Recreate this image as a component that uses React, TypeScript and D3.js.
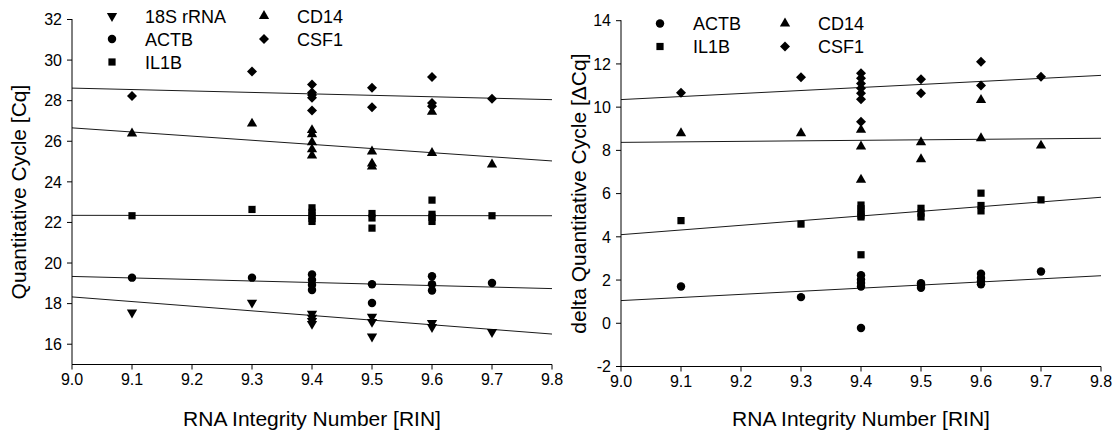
import * as d3 from "d3";

// RIN vs Cq (left panel), [rin, cq]
const cq18S = [[9.1, 17.56], [9.3, 18.05], [9.4, 17.5], [9.4, 17.3], [9.4, 17.15], [9.4, 17.0], [9.5, 17.35], [9.5, 17.1], [9.5, 16.38], [9.6, 17.05], [9.6, 16.85], [9.7, 16.6]];
const cqACTB = [[9.1, 19.28], [9.3, 19.28], [9.4, 19.44], [9.4, 19.16], [9.4, 18.92], [9.4, 18.67], [9.5, 18.95], [9.5, 18.03], [9.6, 19.35], [9.6, 18.95], [9.6, 18.65], [9.7, 19.02]];
const cqIL1B = [[9.1, 22.33], [9.3, 22.64], [9.4, 22.72], [9.4, 22.5], [9.4, 22.35], [9.4, 22.2], [9.4, 22.05], [9.5, 22.44], [9.5, 22.22], [9.5, 21.72], [9.6, 23.1], [9.6, 22.4], [9.6, 22.25], [9.6, 22.05], [9.7, 22.33]];
const cqCD14 = [[9.1, 26.38], [9.3, 26.87], [9.4, 26.55], [9.4, 26.35], [9.4, 25.95], [9.4, 25.6], [9.4, 25.3], [9.5, 25.5], [9.5, 24.9], [9.5, 24.75], [9.6, 27.45], [9.6, 25.42], [9.7, 24.86]];
const cqCSF1 = [[9.1, 28.23], [9.3, 29.44], [9.4, 28.8], [9.4, 28.4], [9.4, 28.28], [9.4, 28.15], [9.4, 27.52], [9.5, 28.64], [9.5, 27.68], [9.6, 29.17], [9.6, 27.88], [9.6, 27.72], [9.7, 28.09]];

// RIN vs delta Cq (right panel)
const dcqACTB = [[9.1, 1.7], [9.3, 1.21], [9.4, 2.22], [9.4, 2.02], [9.4, 1.86], [9.4, 1.7], [9.4, -0.22], [9.5, 1.85], [9.5, 1.75], [9.5, 1.64], [9.6, 2.29], [9.6, 2.1], [9.6, 1.95], [9.6, 1.8], [9.7, 2.4]];
const dcqIL1B = [[9.1, 4.75], [9.3, 4.59], [9.4, 5.47], [9.4, 5.3], [9.4, 5.15], [9.4, 5.0], [9.4, 4.92], [9.4, 3.17], [9.5, 5.32], [9.5, 5.1], [9.5, 4.92], [9.6, 6.02], [9.6, 5.45], [9.6, 5.2], [9.7, 5.71]];
const dcqCD14 = [[9.1, 8.79], [9.3, 8.79], [9.4, 8.95], [9.4, 8.18], [9.4, 6.64], [9.5, 8.38], [9.5, 7.59], [9.6, 10.33], [9.6, 8.56], [9.7, 8.22]];
const dcqCSF1 = [[9.1, 10.67], [9.3, 11.38], [9.4, 11.57], [9.4, 11.34], [9.4, 11.1], [9.4, 10.87], [9.4, 10.64], [9.4, 10.37], [9.4, 9.33], [9.5, 11.29], [9.5, 10.64], [9.6, 12.1], [9.6, 11.0], [9.7, 11.41]];

// regression lines: value at RIN 9.0 and 9.8
const fitRin = [9.0, 9.8];
const cqFit18S = [18.33, 16.5];
const cqFitACTB = [19.34, 18.74];
const cqFitIL1B = [22.35, 22.33];
const cqFitCD14 = [26.66, 25.03];
const cqFitCSF1 = [28.62, 28.05];
const dcqFitACTB = [1.05, 2.2];
const dcqFitIL1B = [4.1, 5.83];
const dcqFitCD14 = [8.37, 8.56];
const dcqFitCSF1 = [10.35, 11.47];

const xTicks = [9.0, 9.1, 9.2, 9.3, 9.4, 9.5, 9.6, 9.7, 9.8];
const cqTicks = [16, 18, 20, 22, 24, 26, 28, 30, 32];
const dcqTicks = [-2, 0, 2, 4, 6, 8, 10, 12, 14];

const FONT = "'Liberation Sans', Arial, Helvetica, sans-serif";

const shapes = {
  "18S rRNA": { type: d3.symbolTriangle, size: 46, rotate: 180 },
  ACTB: { type: d3.symbolCircle, size: 56, rotate: 0 },
  IL1B: { type: d3.symbolSquare, size: 52, rotate: 0 },
  CD14: { type: d3.symbolTriangle, size: 46, rotate: 0 },
  CSF1: { type: d3.symbolSquare, size: 50, rotate: 45 },
};

function Marker({ name, x, y }) {
  const s = shapes[name];
  const d = d3.symbol().type(s.type).size(s.size)();
  return <path d={d} transform={`translate(${x},${y}) rotate(${s.rotate})`} fill="#000" />;
}

function Panel({ left, right, top, bottom, yDomain, yTicks, series, yTitle, titleX, legend }) {
  const x = d3.scaleLinear().domain([9.0, 9.8]).range([left, right]);
  const y = d3.scaleLinear().domain(yDomain).range([bottom, top]);
  const line = d3.line().x((d) => x(d[0])).y((d) => y(d[1]));

  return (
    <g fontFamily={FONT}>
      {/* fit lines */}
      {series.map((s) => (
        <path key={"f" + s.name} d={line(fitRin.map((r, i) => [r, s.fit[i]]))} stroke="#1a1a1a" strokeWidth={1} fill="none" />
      ))}
      {/* points */}
      {series.map((s) =>
        s.points.map((p, i) => <Marker key={s.name + i} name={s.name} x={x(p[0])} y={y(p[1])} />)
      )}
      {/* axes */}
      <line x1={left} x2={left} y1={top - 0.5} y2={bottom} stroke="#000" />
      <line x1={left} x2={right} y1={bottom} y2={bottom} stroke="#000" />
      {xTicks.map((t) => (
        <g key={"x" + t}>
          <line x1={x(t)} x2={x(t)} y1={bottom} y2={bottom + 5} stroke="#000" />
          <text x={x(t)} y={bottom + 20} textAnchor="middle" fontSize={16}>
            {d3.format(".1f")(t)}
          </text>
        </g>
      ))}
      {yTicks.map((t) => (
        <g key={"y" + t}>
          <line x1={left - 5} x2={left} y1={y(t)} y2={y(t)} stroke="#000" />
          <text x={left - 10} y={y(t)} dy="0.36em" textAnchor="end" fontSize={16}>
            {t}
          </text>
        </g>
      ))}
      <text x={(left + right) / 2} y={426} textAnchor="middle" fontSize={21}>
        RNA Integrity Number [RIN]
      </text>
      <text
        transform={`translate(${titleX},${(top + bottom) / 2}) rotate(-90)`}
        textAnchor="middle"
        fontSize={21}
      >
        {yTitle}
      </text>
      {/* legend */}
      {legend.items.map((col, ci) =>
        col.map((name, ri) => {
          const lx = legend.x[ci];
          const ly = legend.y + ri * 23;
          return (
            <g key={"l" + name}>
              <Marker name={name} x={lx} y={ly} />
              <text x={lx + 33} y={ly + 6.5} fontSize={18}>
                {name}
              </text>
            </g>
          );
        })
      )}
    </g>
  );
}

export default function App() {
  const leftSeries = [
    { name: "18S rRNA", points: cq18S, fit: cqFit18S },
    { name: "ACTB", points: cqACTB, fit: cqFitACTB },
    { name: "IL1B", points: cqIL1B, fit: cqFitIL1B },
    { name: "CD14", points: cqCD14, fit: cqFitCD14 },
    { name: "CSF1", points: cqCSF1, fit: cqFitCSF1 },
  ];
  const rightSeries = [
    { name: "ACTB", points: dcqACTB, fit: dcqFitACTB },
    { name: "IL1B", points: dcqIL1B, fit: dcqFitIL1B },
    { name: "CD14", points: dcqCD14, fit: dcqFitCD14 },
    { name: "CSF1", points: dcqCSF1, fit: dcqFitCSF1 },
  ];
  return (
    <svg
      width={1118}
      height={436}
      style={{ position: "absolute", left: 0, top: 0, background: "#fff" }}
    >
      <rect width={1118} height={436} fill="#fff" />
      <Panel
        left={72}
        right={552}
        top={19.5}
        bottom={364.5}
        yDomain={[15, 32]}
        yTicks={cqTicks}
        series={leftSeries}
        yTitle="Quantitative Cycle [Cq]"
        titleX={26}
        legend={{ x: [112, 264], y: 16, items: [["18S rRNA", "ACTB", "IL1B"], ["CD14", "CSF1"]] }}
      />
      <Panel
        left={621}
        right={1101}
        top={20.7}
        bottom={366.5}
        yDomain={[-2, 14]}
        yTicks={dcqTicks}
        series={rightSeries}
        yTitle="delta Quantitative Cycle [ΔCq]"
        titleX={586}
        legend={{ x: [660, 785], y: 23.5, items: [["ACTB", "IL1B"], ["CD14", "CSF1"]] }}
      />
    </svg>
  );
}
